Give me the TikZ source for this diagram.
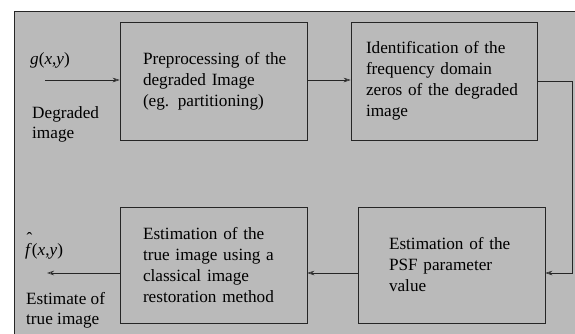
\documentclass[tikz,border=0pt]{standalone}
\usepackage{fontspec}
\setmainfont{Liberation Serif}
\usetikzlibrary{arrows.meta}
\definecolor{scan}{gray}{0.73}
\tikzset{
  blk/.style={draw=black!85, line width=0.6pt, fill=scan, minimum height=118pt,
    align=left, inner ysep=0pt, font=\fontsize{17.2}{21}\selectfont},
  lbl/.style={inner sep=0pt, align=left, anchor=west, font=\fontsize{17.2}{20}\selectfont},
  conn/.style={draw=black!85, line width=0.6pt},
  arr/.style={conn, -{Stealth[length=7pt,width=4.5pt,open]}}
}
\begin{document}
\begin{tikzpicture}[x=1pt,y=-1pt]
\useasboundingbox (0,0) rectangle (575,333);
\clip (0,0) rectangle (575,333);
\fill[scan] (14,11) rectangle (600,360);
\draw[conn, line width=0.9pt] (14,360) -- (14,11) -- (600,11);

\node[blk, inner xsep=23pt, text width=141pt] (b1) at (213.5,81)
  {\mbox{Preprocessing of the}\\degraded Image\\(eg. partitioning)};
\node[blk, inner xsep=15pt, text width=156pt] (b2) at (444,81)
  {Identification of the\\frequency domain\\\mbox{zeros of the degraded}\\image};
\node[blk, inner xsep=23pt, text width=141pt, minimum height=116pt] (b3) at (213.5,265)
  {Estimation of the\\true image using a\\classical image\\\mbox{restoration method}};
\node[blk, inner xsep=31pt, text width=125pt, minimum height=116pt] (b4) at (451.5,265)
  {Estimation of the\\PSF parameter\\value};

\node[lbl] (g) at (30,60) {\textit{g}(\textit{x},\textit{y})};
\node[lbl] (din) at (32,124) {Degraded\\image};
\node[lbl] (f) at (25,246) {\rlap{\raisebox{0.62em}{\kern0.08em\char"02C6}}\textit{f}(\textit{x},\textit{y})};
\node[lbl] (est) at (26,310) {Estimate of\\true image};

\coordinate (in) at (45,80);
\coordinate (out) at (47,273);
\coordinate (c1) at (572,273);

\draw[arr] (in) -- (in -| b1.west);
\draw[arr] (b1.east |- in) -- (b2.west |- in);
\draw[arr] (b2.east) -| (c1) -- (b4.east |- c1);
\draw[arr] (b4.west |- c1) -- (b3.east |- c1);
\draw[arr] (b3.west |- c1) -- (out);
\end{tikzpicture}
\end{document}
